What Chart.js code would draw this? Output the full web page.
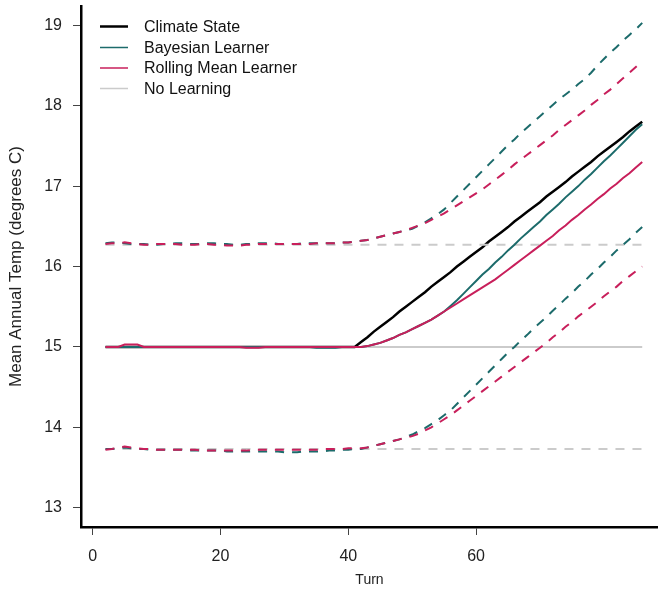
<!DOCTYPE html>
<html>
<head>
<meta charset="utf-8">
<script src="https://cdn.jsdelivr.net/npm/chart.js@4.4.0/dist/chart.umd.min.js"></script>
<style>
  html, body { margin: 0; padding: 0; background: #fff; }
  #wrap { width: 658px; height: 589px; position: relative; }
</style>
</head>
<body>
<div id="wrap"><canvas id="chart" width="658" height="589"></canvas></div>
<script>
// turns shown on the x axis
const turns = [
  2, 3, 4, 5, 6, 7, 8, 9, 10, 11,
  12, 13, 14, 15, 16, 17, 18, 19, 20, 21,
  22, 23, 24, 25, 26, 27, 28, 29, 30, 31,
  32, 33, 34, 35, 36, 37, 38, 39, 40, 41,
  42, 43, 44, 45, 46, 47, 48, 49, 50, 51,
  52, 53, 54, 55, 56, 57, 58, 59, 60, 61,
  62, 63, 64, 65, 66, 67, 68, 69, 70, 71,
  72, 73, 74, 75, 76, 77, 78, 79, 80, 81,
  82, 83, 84, 85, 86
];

const climateState = [
  15, 15, 15, 15, 15, 15, 15, 15, 15, 15,
  15, 15, 15, 15, 15, 15, 15, 15, 15, 15,
  15, 15, 15, 15, 15, 15, 15, 15, 15, 15,
  15, 15, 15, 15, 15, 15, 15, 15, 15, 15,
  15.06, 15.12, 15.19, 15.25, 15.31, 15.37, 15.44, 15.50, 15.56, 15.62,
  15.68, 15.75, 15.81, 15.87, 15.93, 16.00, 16.06, 16.12, 16.18, 16.24,
  16.31, 16.37, 16.43, 16.49, 16.56, 16.62, 16.68, 16.74, 16.80, 16.87,
  16.93, 16.99, 17.05, 17.12, 17.18, 17.24, 17.30, 17.37, 17.43, 17.49,
  17.55, 17.61, 17.68, 17.74, 17.80
];

const bayesMean = [
  15, 15, 15, 15, 15, 15, 15, 15, 15, 15,
  15, 15, 15, 15, 15, 15, 15, 15, 15, 15,
  15, 15, 15, 15, 15, 15, 15, 15, 15, 15,
  15, 15, 15, 14.99, 14.99, 14.99, 14.99, 15, 15, 15,
  15.00, 15.01, 15.03, 15.05, 15.08, 15.11, 15.15, 15.18, 15.22, 15.26,
  15.30, 15.34, 15.39, 15.44, 15.51, 15.58, 15.66, 15.74, 15.82, 15.90,
  15.97, 16.05, 16.12, 16.20, 16.27, 16.35, 16.42, 16.49, 16.56, 16.64,
  16.71, 16.78, 16.86, 16.93, 17.00, 17.08, 17.15, 17.23, 17.31, 17.38,
  17.46, 17.54, 17.62, 17.70, 17.77
];
const bayesUpper = [
  16.29, 16.30, 16.30, 16.29, 16.28, 16.28, 16.28, 16.27, 16.27, 16.28,
  16.28, 16.29, 16.29, 16.28, 16.28, 16.28, 16.29, 16.29, 16.28, 16.28,
  16.27, 16.27, 16.28, 16.28, 16.29, 16.29, 16.29, 16.28, 16.28, 16.28,
  16.28, 16.29, 16.29, 16.29, 16.29, 16.29, 16.29, 16.30, 16.30, 16.31,
  16.32, 16.33, 16.35, 16.37, 16.39, 16.41, 16.43, 16.45, 16.47, 16.51,
  16.55, 16.60, 16.65, 16.71, 16.79, 16.87, 16.95, 17.03, 17.11, 17.19,
  17.27, 17.35, 17.43, 17.51, 17.58, 17.66, 17.73, 17.80, 17.87, 17.94,
  18.01, 18.08, 18.14, 18.20, 18.27, 18.33, 18.41, 18.50, 18.58, 18.66,
  18.73, 18.81, 18.88, 18.95, 19.03
];
const bayesLower = [
  13.73, 13.73, 13.74, 13.75, 13.74, 13.73, 13.73, 13.72, 13.72, 13.72,
  13.72, 13.72, 13.72, 13.71, 13.71, 13.71, 13.71, 13.71, 13.71, 13.70,
  13.70, 13.70, 13.70, 13.70, 13.70, 13.70, 13.70, 13.70, 13.69, 13.69,
  13.69, 13.70, 13.70, 13.70, 13.70, 13.71, 13.71, 13.72, 13.72, 13.73,
  13.73, 13.75, 13.77, 13.79, 13.81, 13.83, 13.85, 13.88, 13.91, 13.95,
  13.99, 14.04, 14.09, 14.15, 14.21, 14.29, 14.37, 14.45, 14.53, 14.61,
  14.69, 14.77, 14.85, 14.93, 15.00, 15.08, 15.15, 15.23, 15.30, 15.37,
  15.45, 15.52, 15.60, 15.67, 15.75, 15.82, 15.90, 15.97, 16.05, 16.12,
  16.20, 16.27, 16.34, 16.42, 16.49
];

const rollMean = [
  15, 15, 15, 15.03, 15.03, 15.03, 15, 15, 15, 15,
  15, 15, 15, 15, 15, 15, 15, 15, 15, 15,
  15, 15, 14.99, 14.99, 14.99, 15, 15, 15, 15, 15,
  15, 15, 15, 15, 15, 15, 15, 15, 15, 15,
  15.00, 15.01, 15.03, 15.05, 15.08, 15.11, 15.15, 15.18, 15.22, 15.26,
  15.30, 15.34, 15.39, 15.44, 15.49, 15.54, 15.59, 15.64, 15.69, 15.74,
  15.79, 15.84, 15.90, 15.96, 16.02, 16.08, 16.14, 16.20, 16.26, 16.32,
  16.38, 16.45, 16.51, 16.58, 16.64, 16.71, 16.77, 16.84, 16.90, 16.97,
  17.03, 17.10, 17.16, 17.23, 17.30
];
const rollUpper = [
  16.28, 16.29, 16.29, 16.30, 16.29, 16.28, 16.27, 16.27, 16.28, 16.28,
  16.28, 16.28, 16.27, 16.27, 16.27, 16.28, 16.28, 16.27, 16.27, 16.26,
  16.26, 16.26, 16.27, 16.27, 16.28, 16.28, 16.28, 16.28, 16.28, 16.28,
  16.28, 16.28, 16.28, 16.29, 16.29, 16.29, 16.29, 16.30, 16.30, 16.31,
  16.32, 16.33, 16.35, 16.37, 16.39, 16.41, 16.43, 16.45, 16.48, 16.51,
  16.54, 16.58, 16.62, 16.66, 16.71, 16.76, 16.81, 16.86, 16.91, 16.96,
  17.02, 17.08, 17.14, 17.20, 17.27, 17.33, 17.39, 17.45, 17.51, 17.57,
  17.63, 17.70, 17.76, 17.82, 17.88, 17.94, 18.01, 18.07, 18.14, 18.20,
  18.27, 18.34, 18.41, 18.48, 18.55
];
const rollLower = [
  13.72, 13.73, 13.75, 13.76, 13.75, 13.74, 13.73, 13.73, 13.72, 13.72,
  13.72, 13.72, 13.72, 13.72, 13.72, 13.71, 13.71, 13.71, 13.71, 13.71,
  13.71, 13.71, 13.71, 13.72, 13.72, 13.72, 13.72, 13.72, 13.72, 13.72,
  13.72, 13.72, 13.72, 13.72, 13.73, 13.73, 13.73, 13.73, 13.74, 13.74,
  13.74, 13.75, 13.77, 13.79, 13.81, 13.83, 13.85, 13.87, 13.89, 13.92,
  13.96, 14.00, 14.05, 14.10, 14.15, 14.21, 14.27, 14.33, 14.39, 14.45,
  14.51, 14.57, 14.63, 14.69, 14.75, 14.81, 14.87, 14.93, 14.99, 15.05,
  15.12, 15.18, 15.25, 15.31, 15.38, 15.44, 15.50, 15.56, 15.63, 15.69,
  15.75, 15.82, 15.88, 15.94, 16.00
];

// no learning: constant belief and its band
const noLearnMean = 15.0;
const noLearnUpper = 16.27;
const noLearnLower = 13.73;

const xTicks = [0, 20, 40, 60];
const yTicks = [13, 14, 15, 16, 17, 18, 19];

const legendNames = ['Climate State', 'Bayesian Learner', 'Rolling Mean Learner', 'No Learning'];

const BLACK = '#000000';
const TEAL = '#1c6b6b';
const CRIMSON = '#c81f5b';
const GREY = '#cbcbcb';
const DASH = [9, 8];
const FONT = '"Liberation Sans", Arial, sans-serif';

function pts(arr) { return turns.map((t, i) => ({ x: t, y: arr[i] })); }
function flat(v) { return [{ x: turns[0], y: v }, { x: turns[turns.length - 1], y: v }]; }

function line(data, color, width, dashed) {
  return {
    data: data, borderColor: color, borderWidth: width,
    borderDash: dashed ? DASH : [], pointRadius: 0, tension: 0, fill: false
  };
}

// first dataset is drawn on top
const datasets = [
  line(pts(rollMean), CRIMSON, 2, false),
  line(pts(rollUpper), CRIMSON, 2, true),
  line(pts(rollLower), CRIMSON, 2, true),
  line(pts(bayesMean), TEAL, 2, false),
  line(pts(bayesUpper), TEAL, 2, true),
  line(pts(bayesLower), TEAL, 2, true),
  line(flat(noLearnMean), GREY, 2, false),
  line(flat(noLearnUpper), GREY, 2, true),
  line(flat(noLearnLower), GREY, 2, true),
  line(pts(climateState), BLACK, 2.5, false)
];

const legendPlugin = {
  id: 'insideLegend',
  afterDraw(chart) {
    const ctx = chart.ctx;
    const colors = [BLACK, TEAL, CRIMSON, GREY];
    const widths = [2.5, 1.5, 1.5, 1.5];
    const ys = [26.5, 47.5, 68, 88.5];
    ctx.save();
    ctx.font = '16px ' + FONT;
    ctx.textBaseline = 'middle';
    ctx.textAlign = 'left';
    legendNames.forEach((name, i) => {
      ctx.beginPath();
      ctx.strokeStyle = colors[i];
      ctx.lineWidth = widths[i];
      ctx.moveTo(100, ys[i]);
      ctx.lineTo(128, ys[i]);
      ctx.stroke();
      ctx.fillStyle = '#111';
      ctx.fillText(name, 144, ys[i] + 1);
    });
    ctx.restore();
  }
};

new Chart(document.getElementById('chart'), {
  type: 'line',
  data: { datasets: datasets },
  plugins: [legendPlugin],
  options: {
    responsive: false,
    animation: false,
    layout: { padding: { top: 6, left: 0, right: 0, bottom: 0 } },
    plugins: { legend: { display: false }, tooltip: { enabled: false } },
    scales: {
      x: {
        type: 'linear',
        min: -1.83,
        max: 88.47,
        afterBuildTicks: s => { s.ticks = xTicks.map(v => ({ value: v })); },
        afterFit: s => { s.height = 62; s.paddingLeft = 0; s.paddingRight = 0; },
        grid: { drawOnChartArea: false, drawTicks: true, tickLength: 8, color: '#444', lineWidth: 1 },
        border: { display: true, color: '#000', width: 2.5 },
        ticks: { color: '#222', font: { size: 16, family: FONT }, padding: 12, maxRotation: 0 },
        title: { display: true, text: 'Turn', color: '#222', font: { size: 14, family: FONT }, padding: { top: 0, bottom: 0 } }
      },
      y: {
        type: 'linear',
        min: 12.76,
        max: 19.24,
        afterBuildTicks: s => { s.ticks = yTicks.map(v => ({ value: v })); },
        afterFit: s => { s.width = 81; s.paddingTop = 0; s.paddingBottom = 0; },
        grid: { drawOnChartArea: false, drawTicks: true, tickLength: 8, color: '#444', lineWidth: 1 },
        border: { display: true, color: '#000', width: 2.5 },
        ticks: { color: '#222', font: { size: 16, family: FONT }, padding: 11 },
        title: { display: true, text: 'Mean Annual Temp (degrees C)', color: '#222', font: { size: 17, family: FONT }, padding: { top: 6, bottom: 0 } }
      }
    }
  }
});
</script>
</body>
</html>
